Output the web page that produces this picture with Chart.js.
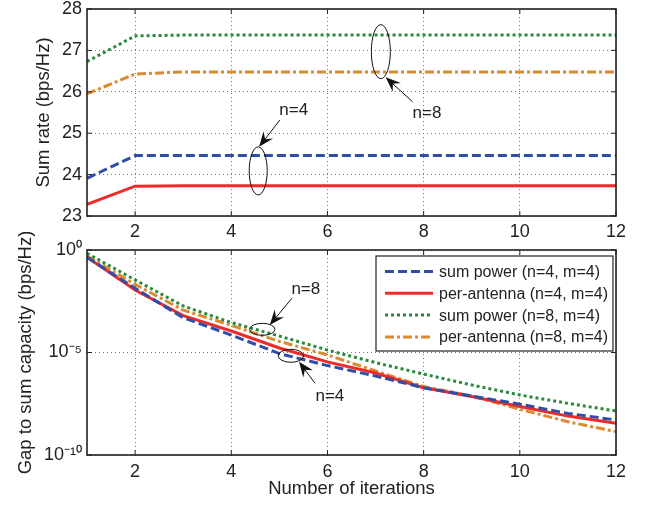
<!DOCTYPE html>
<html>
<head>
<meta charset="utf-8">
<script src="https://cdn.jsdelivr.net/npm/chart.js@4.4.1/dist/chart.umd.min.js"></script>
<style>
  body { margin: 0; background: #fff; }
  #wrap { position: relative; width: 651px; height: 505px; overflow: hidden; }
  #rateChart { position: absolute; left: 0; top: -6px; }
  #gapChart { position: absolute; left: 0; top: 232px; }
</style>
</head>
<body>
<div id="wrap">
  <canvas id="rateChart" width="651" height="246"></canvas>
  <canvas id="gapChart" width="651" height="273"></canvas>
</div>
<script>
// --- data ---
const iterations = [1, 2, 3, 4, 5, 6, 7, 8, 9, 10, 11, 12];

// top panel: sum rate (bps/Hz)
const rateSumN4 = [23.91, 24.46, 24.46, 24.46, 24.46, 24.46, 24.46, 24.46, 24.46, 24.46, 24.46, 24.46];
const ratePerN4 = [23.28, 23.72, 23.73, 23.73, 23.73, 23.73, 23.73, 23.73, 23.73, 23.73, 23.73, 23.73];
const rateSumN8 = [26.73, 27.35, 27.37, 27.37, 27.37, 27.37, 27.37, 27.37, 27.37, 27.37, 27.37, 27.37];
const ratePerN8 = [25.95, 26.43, 26.48, 26.48, 26.48, 26.48, 26.48, 26.48, 26.48, 26.48, 26.48, 26.48];

// bottom panel: gap to sum capacity (bps/Hz), log scale
const gapSumN4 = [4.4e-1, 1.35e-2, 5.0e-4, 7.1e-5, 8.9e-6, 2.3e-6, 7.1e-7, 1.9e-7, 7.6e-8, 3.0e-8, 1.07e-8, 5.1e-9];
const gapPerN4 = [4.4e-1, 1.12e-2, 6.3e-4, 1.12e-4, 1.66e-5, 3.5e-6, 1.0e-6, 1.9e-7, 7.1e-8, 2.3e-8, 7.9e-9, 3.5e-9];
const gapSumN8 = [6.9e-1, 3.5e-2, 1.86e-3, 2.9e-4, 6.3e-5, 1.32e-5, 3.2e-6, 8.9e-7, 2.6e-7, 8.5e-8, 3.3e-8, 1.41e-8];
const gapPerN8 = [5.1e-1, 2.1e-2, 1.17e-3, 2.1e-4, 3.5e-5, 7.6e-6, 1.26e-6, 2.2e-7, 7.6e-8, 1.7e-8, 4.2e-9, 1.38e-9];

const seriesLabels = ['sum power (n=4, m=4)', 'per-antenna (n=4, m=4)', 'sum power (n=8, m=4)', 'per-antenna (n=8, m=4)'];

const xTicks = [2, 4, 6, 8, 10, 12];
const rateTicks = [23, 24, 25, 26, 27, 28];
const gapTicks = [1e-10, 1e-5, 1];
const gapTickLabels = ['10\u207B\u00B9\u2070', '10\u207B\u2075', '10\u2070'];

// annotations (positions in data units)
const rateNotes = [
  { type: 'ellipse', x: 4.56, y: 24.09, rx: 9, ry: 24 },
  { type: 'arrow', from: [5.01, 25.32], to: [4.58, 24.67] },
  { type: 'text', x: 5.30, y: 25.56, text: 'n=4' },
  { type: 'ellipse', x: 7.11, y: 26.97, rx: 9.5, ry: 27 },
  { type: 'arrow', from: [7.77, 25.76], to: [7.21, 26.35] },
  { type: 'text', x: 8.07, y: 25.49, text: 'n=8' }
];
const gapNotes = [
  { type: 'ellipse', x: 4.645, y: 1.35e-4, rx: 12.7, ry: 6 },
  { type: 'arrow', from: [5.26, 4.4e-3], to: [4.80, 2.2e-4] },
  { type: 'text', x: 5.55, y: 1.26e-2, text: 'n=8' },
  { type: 'ellipse', x: 5.24, y: 6.9e-6, rx: 12.7, ry: 6.5 },
  { type: 'arrow', from: [5.74, 3.2e-7], to: [5.41, 3.5e-6] },
  { type: 'text', x: 6.05, y: 7.6e-8, text: 'n=4' }
];

const FONT = '"Liberation Sans", Arial, Helvetica, sans-serif';
const styles = [
  { color: '#2f4fa6', dash: [9, 4] },
  { color: '#ee2a2a', dash: [] },
  { color: '#2a8a3c', dash: [3, 3] },
  { color: '#dc8a2f', dash: [9, 3, 3, 3] }
];

function makeSets(arrays) {
  return arrays.map((arr, i) => ({
    label: seriesLabels[i],
    data: iterations.map((x, j) => ({ x: x, y: arr[j] })),
    borderColor: styles[i].color,
    borderDash: styles[i].dash,
    borderWidth: 3,
    pointRadius: 0,
    fill: false,
    tension: 0
  }));
}

// box around the plot + inward tick marks
const framePlugin = {
  id: 'frame',
  afterDatasetsDraw(chart) {
    const { ctx, chartArea: a, scales } = chart;
    ctx.save();
    ctx.setLineDash([]);
    ctx.strokeStyle = '#222';
    ctx.lineWidth = 1;
    ctx.beginPath();
    scales.x.ticks.forEach(t => {
      const px = scales.x.getPixelForValue(t.value);
      ctx.moveTo(px, a.bottom); ctx.lineTo(px, a.bottom - 5);
      ctx.moveTo(px, a.top); ctx.lineTo(px, a.top + 5);
    });
    scales.y.ticks.forEach(t => {
      const py = scales.y.getPixelForValue(t.value);
      ctx.moveTo(a.left, py); ctx.lineTo(a.left + 5, py);
      ctx.moveTo(a.right, py); ctx.lineTo(a.right - 5, py);
    });
    ctx.stroke();
    ctx.lineWidth = 1.6;
    ctx.strokeRect(a.left, a.top, a.right - a.left, a.bottom - a.top);
    ctx.restore();
  }
};

// ellipses, arrows and n= labels
const notesPlugin = {
  id: 'notes',
  afterDatasetsDraw(chart, args, opts) {
    const { ctx, scales } = chart;
    const px = v => scales.x.getPixelForValue(v);
    const py = v => scales.y.getPixelForValue(v);
    ctx.save();
    ctx.setLineDash([]);
    ctx.strokeStyle = '#111';
    ctx.fillStyle = '#111';
    ctx.lineWidth = 1;
    (opts.items || []).forEach(n => {
      if (n.type === 'ellipse') {
        ctx.beginPath();
        ctx.ellipse(px(n.x), py(n.y), n.rx, n.ry, 0, 0, Math.PI * 2);
        ctx.stroke();
      } else if (n.type === 'arrow') {
        const x0 = px(n.from[0]), y0 = py(n.from[1]);
        const x1 = px(n.to[0]), y1 = py(n.to[1]);
        const ang = Math.atan2(y1 - y0, x1 - x0);
        const len = 15, half = 6;
        ctx.beginPath();
        ctx.moveTo(x0, y0);
        ctx.lineTo(x1 - Math.cos(ang) * len * 0.6, y1 - Math.sin(ang) * len * 0.6);
        ctx.stroke();
        const bx = x1 - Math.cos(ang) * len, by = y1 - Math.sin(ang) * len;
        const nx = -Math.sin(ang), ny = Math.cos(ang);
        ctx.beginPath();
        ctx.moveTo(x1, y1);
        ctx.lineTo(bx + nx * half, by + ny * half);
        ctx.lineTo(x1 - Math.cos(ang) * len * 0.65, y1 - Math.sin(ang) * len * 0.65);
        ctx.lineTo(bx - nx * half, by - ny * half);
        ctx.closePath();
        ctx.fill();
      } else if (n.type === 'text') {
        ctx.font = '17px ' + FONT;
        ctx.fillStyle = '#222';
        ctx.textAlign = 'center';
        ctx.textBaseline = 'middle';
        ctx.fillText(n.text, px(n.x), py(n.y));
        ctx.fillStyle = '#111';
      }
    });
    ctx.restore();
  }
};

// legend box inside the lower plot, top right
const boxLegendPlugin = {
  id: 'boxLegend',
  afterDraw(chart) {
    const { ctx, chartArea: a } = chart;
    const w = 237, h = 95;
    const left = a.right - w - 3, top = a.top + 6;
    ctx.save();
    ctx.fillStyle = '#fff';
    ctx.fillRect(left, top, w, h);
    ctx.setLineDash([]);
    ctx.strokeStyle = '#222';
    ctx.lineWidth = 1.2;
    ctx.strokeRect(left, top, w, h);
    ctx.font = '16px ' + FONT;
    ctx.textBaseline = 'middle';
    chart.data.datasets.forEach((ds, i) => {
      const y = top + 15.5 + i * 21.8;
      ctx.strokeStyle = ds.borderColor;
      ctx.lineWidth = 3;
      ctx.setLineDash(ds.borderDash);
      ctx.beginPath();
      ctx.moveTo(left + 9, y);
      ctx.lineTo(left + 57, y);
      ctx.stroke();
      ctx.fillStyle = '#222';
      ctx.fillText(ds.label, left + 63, y + 1);
    });
    ctx.restore();
  }
};

const tickFont = { family: FONT, size: 18, lineHeight: 1 };
const titleFont = { family: FONT, size: 18.5, lineHeight: 1.2 };
const gridOpts = { color: '#777', lineWidth: 1, drawTicks: false };
const borderOpts = { display: false, dash: [1, 3] };

new Chart(document.getElementById('rateChart'), {
  type: 'line',
  data: { datasets: makeSets([rateSumN4, ratePerN4, rateSumN8, ratePerN8]) },
  plugins: [framePlugin, notesPlugin],
  options: {
    responsive: false,
    animation: false,
    devicePixelRatio: 1,
    layout: { padding: { top: 15, right: 35, left: 0, bottom: 0 } },
    plugins: {
      legend: { display: false },
      tooltip: { enabled: false },
      notes: { items: rateNotes }
    },
    scales: {
      x: {
        type: 'linear', min: 1, max: 12,
        afterBuildTicks: s => { s.ticks = xTicks.map(v => ({ value: v })); },
        afterFit: s => { s.height = 24; },
        ticks: { font: tickFont, color: '#222', padding: 7, maxRotation: 0 },
        grid: gridOpts, border: borderOpts
      },
      y: {
        min: 23, max: 28,
        afterBuildTicks: s => { s.ticks = rateTicks.map(v => ({ value: v })); },
        afterFit: s => { s.width = 87; },
        ticks: { font: tickFont, color: '#222', padding: 5 },
        grid: gridOpts, border: borderOpts,
        title: { display: true, text: 'Sum rate (bps/Hz)', font: titleFont, color: '#222', padding: { top: 33, bottom: 0 } }
      }
    }
  }
});

new Chart(document.getElementById('gapChart'), {
  type: 'line',
  data: { datasets: makeSets([gapSumN4, gapPerN4, gapSumN8, gapPerN8]) },
  plugins: [framePlugin, notesPlugin, boxLegendPlugin],
  options: {
    responsive: false,
    animation: false,
    devicePixelRatio: 1,
    layout: { padding: { top: 18, right: 35, left: 0, bottom: 0 } },
    plugins: {
      legend: { display: false },
      tooltip: { enabled: false },
      notes: { items: gapNotes }
    },
    scales: {
      x: {
        type: 'linear', min: 1, max: 12,
        afterBuildTicks: s => { s.ticks = xTicks.map(v => ({ value: v })); },
        afterFit: s => { s.height = 50; },
        ticks: { font: tickFont, color: '#222', padding: 8, maxRotation: 0 },
        grid: gridOpts, border: borderOpts,
        title: { display: true, text: 'Number of iterations', font: titleFont, color: '#222', padding: { top: 5, bottom: 5 } }
      },
      y: {
        type: 'logarithmic', min: 1e-10, max: 1,
        afterBuildTicks: s => { s.ticks = gapTicks.map(v => ({ value: v })); },
        afterFit: s => { s.width = 87; },
        ticks: { font: tickFont, color: '#222', padding: 5, callback: (v, i) => gapTickLabels[i] },
        grid: gridOpts, border: borderOpts,
        title: { display: true, text: 'Gap to sum capacity (bps/Hz)', font: titleFont, color: '#222', padding: { top: 15, bottom: 0 } }
      }
    }
  }
});
</script>
</body>
</html>
